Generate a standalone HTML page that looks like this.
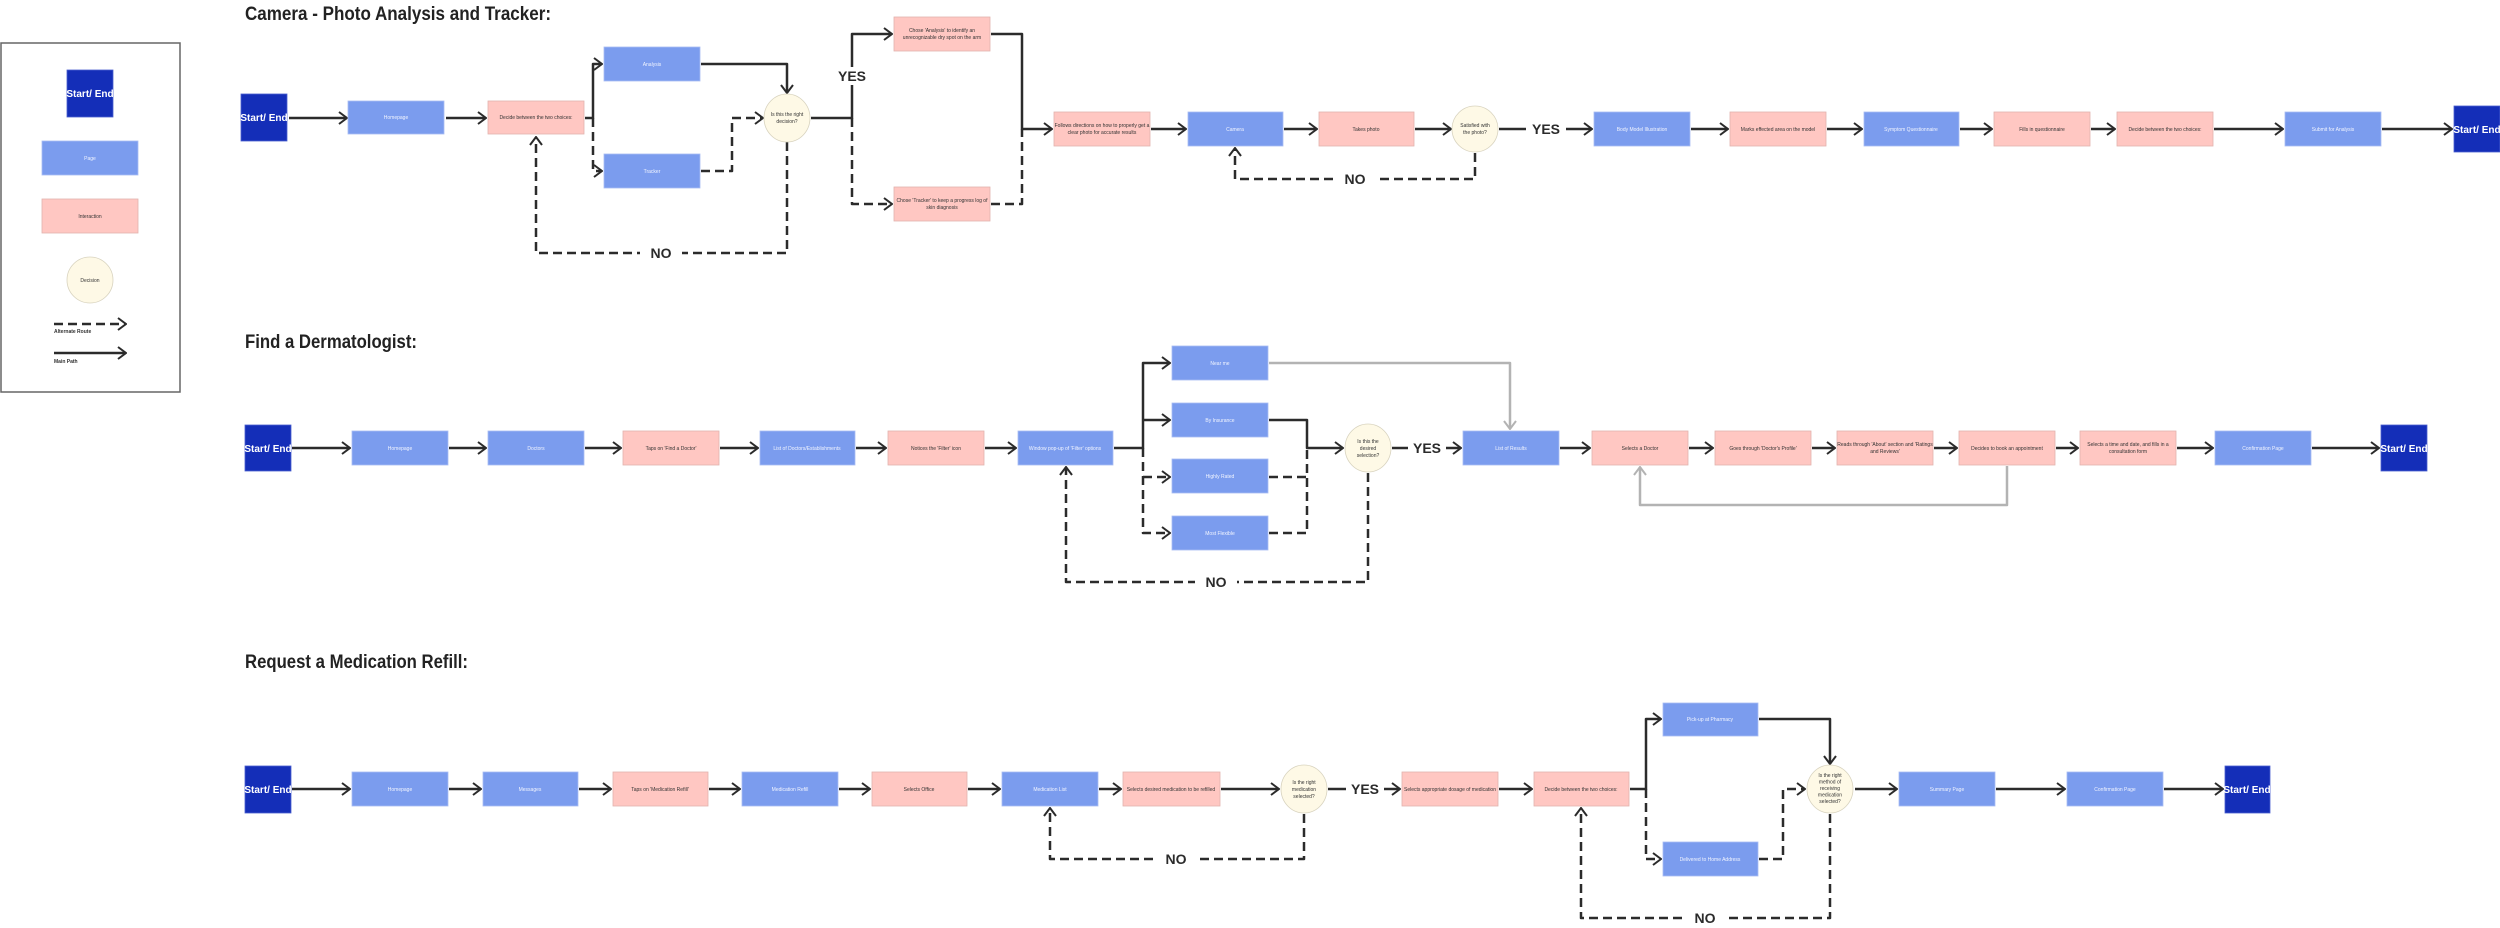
<!DOCTYPE html>
<html><head><meta charset="utf-8"><style>
html,body{margin:0;padding:0;background:#fff;}
svg{display:block;}
.s{stroke:#2b2b2b;stroke-width:2.5;fill:none;stroke-linejoin:round;}
.d{stroke:#2b2b2b;stroke-width:2.5;fill:none;stroke-dasharray:9 5;stroke-linejoin:round;}
.g{stroke:#b3b3b3;stroke-width:2.5;fill:none;stroke-linejoin:round;}
.pg{fill:#7b9cee;stroke:#a9bdf3;stroke-width:.8;}
.in{fill:#ffc7c2;stroke:#e2b3ae;stroke-width:.8;}
.se{fill:#142eb8;stroke:#4a5fcf;stroke-width:.8;}
.dc{fill:#fef9e6;stroke:#d8d3bf;stroke-width:.8;}
text{font-family:"Liberation Sans",sans-serif;}
.tp{font-size:5px;fill:#f2f5ff;text-anchor:middle;}
.ti{font-size:5px;fill:#333;text-anchor:middle;}
.tse{font-size:10px;fill:#fff;font-weight:bold;text-anchor:middle;}
.lb{font-size:14px;font-weight:bold;fill:#2b2b2b;text-anchor:middle;}
.h{font-size:19px;font-weight:bold;fill:#222;}
</style></head><body>
<svg width="2500" height="928" viewBox="0 0 2500 928" xmlns="http://www.w3.org/2000/svg">
<defs>
<marker id="a" viewBox="0 0 10 14" refX="9" refY="7" markerWidth="10" markerHeight="14" markerUnits="userSpaceOnUse" orient="auto"><path d="M1,1 L9,7 L1,13" fill="none" stroke="#2b2b2b" stroke-width="2"/></marker>
<marker id="ag" viewBox="0 0 10 14" refX="9" refY="7" markerWidth="10" markerHeight="14" markerUnits="userSpaceOnUse" orient="auto"><path d="M1,1 L9,7 L1,13" fill="none" stroke="#b3b3b3" stroke-width="2"/></marker>
</defs>

<!-- Legend -->
<rect x="1" y="43" width="179" height="349" fill="#fff" stroke="#666" stroke-width="1.5"/>
<rect class="se" x="67" y="70" width="46" height="47"/><text class="tse" x="90" y="97">Start/ End</text>
<rect class="pg" x="42" y="141" width="96" height="34"/><text class="tp" x="90" y="160">Page</text>
<rect class="in" x="42" y="199" width="96" height="34"/><text class="ti" x="90" y="218">Interaction</text>
<ellipse class="dc" cx="90" cy="280" rx="23" ry="23"/><text class="ti" x="90" y="282">Decision</text>
<path class="d" d="M54,324 H126" marker-end="url(#a)"/>
<text x="54" y="333" font-size="5" fill="#333" font-weight="bold">Alternate Route</text>
<path class="s" d="M54,353 H126" marker-end="url(#a)"/>
<text x="54" y="363" font-size="5" fill="#333" font-weight="bold">Main Path</text>

<!-- Titles -->
<text class="h" x="245" y="20" textLength="306" lengthAdjust="spacingAndGlyphs">Camera - Photo Analysis and Tracker:</text>
<text class="h" x="245" y="348" textLength="172" lengthAdjust="spacingAndGlyphs">Find a Dermatologist:</text>
<text class="h" x="245" y="668" textLength="223" lengthAdjust="spacingAndGlyphs">Request a Medication Refill:</text>

<!-- ROW 1 connectors -->
<path class="s" d="M289,118 H347" marker-end="url(#a)"/>
<path class="s" d="M446,118 H486" marker-end="url(#a)"/>
<path class="s" d="M585,118 H593 V64 H602" marker-end="url(#a)"/>
<path class="d" d="M593,118 V171 H602" marker-end="url(#a)"/>
<path class="s" d="M701,64 H787 V93" marker-end="url(#a)"/>
<path class="d" d="M701,171 H732 V118 H763" marker-end="url(#a)"/>
<path class="d" d="M787,142 V253 H536 V137" marker-end="url(#a)"/>
<path class="s" d="M811,118 H852 V34 H892" marker-end="url(#a)"/>
<path class="d" d="M852,118 V204 H892" marker-end="url(#a)"/>
<path class="s" d="M991,34 H1022 V129 H1052" marker-end="url(#a)"/>
<path class="d" d="M991,204 H1022 V129"/>
<path class="s" d="M1151,129 H1186" marker-end="url(#a)"/>
<path class="s" d="M1284,129 H1317" marker-end="url(#a)"/>
<path class="s" d="M1415,129 H1451" marker-end="url(#a)"/>
<path class="s" d="M1499,129 H1592" marker-end="url(#a)"/>
<path class="d" d="M1475,153 V179 H1235 V148" marker-end="url(#a)"/>
<path class="s" d="M1691,129 H1728" marker-end="url(#a)"/>
<path class="s" d="M1827,129 H1862" marker-end="url(#a)"/>
<path class="s" d="M1960,129 H1992" marker-end="url(#a)"/>
<path class="s" d="M2091,129 H2115" marker-end="url(#a)"/>
<path class="s" d="M2214,129 H2283" marker-end="url(#a)"/>
<path class="s" d="M2382,129 H2452" marker-end="url(#a)"/>
<!-- labels row1 -->
<rect x="640" y="245" width="42" height="16" fill="#fff"/><text class="lb" x="661" y="258">NO</text>
<rect x="836" y="67" width="32" height="18" fill="#fff"/><text class="lb" x="852" y="81">YES</text>
<rect x="1334" y="171" width="42" height="16" fill="#fff"/><text class="lb" x="1355" y="184">NO</text>
<rect x="1526" y="120" width="40" height="18" fill="#fff"/><text class="lb" x="1546" y="134">YES</text>

<!-- ROW 1 nodes -->
<rect class="se" x="241" y="94" width="46" height="47"/><text class="tse" x="264" y="121">Start/ End</text>
<rect class="pg" x="348" y="101" width="96" height="33"/><text class="tp" x="396" y="119">Homepage</text>
<rect class="in" x="488" y="101" width="96" height="33"/><text class="ti" x="536" y="119">Decide between the two choices:</text>
<rect class="pg" x="604" y="47" width="96" height="34"/><text class="tp" x="652" y="66">Analysis</text>
<rect class="pg" x="604" y="154" width="96" height="34"/><text class="tp" x="652" y="173">Tracker</text>
<ellipse class="dc" cx="787" cy="118" rx="23" ry="24"/><text class="ti" x="787" y="116">Is this the right<tspan x="787" dy="7">decision?</tspan></text>
<rect class="in" x="894" y="17" width="96" height="34"/><text class="ti" x="942" y="32">Chose 'Analysis' to identify an<tspan x="942" dy="7">unrecognizable dry spot on the arm</tspan></text>
<rect class="in" x="894" y="187" width="96" height="34"/><text class="ti" x="942" y="202">Chose 'Tracker' to keep a progress log of<tspan x="942" dy="7">skin diagnosis</tspan></text>
<rect class="in" x="1054" y="112" width="96" height="34"/><text class="ti" x="1102" y="127">Follows directions on how to properly get a<tspan x="1102" dy="7">clear photo for accurate results</tspan></text>
<rect class="pg" x="1188" y="112" width="95" height="34"/><text class="tp" x="1235" y="131">Camera</text>
<rect class="in" x="1319" y="112" width="95" height="34"/><text class="ti" x="1366" y="131">Takes photo</text>
<ellipse class="dc" cx="1475" cy="129" rx="23" ry="23"/><text class="ti" x="1475" y="127">Satisfied with<tspan x="1475" dy="7">the photo?</tspan></text>
<rect class="pg" x="1594" y="112" width="96" height="34"/><text class="tp" x="1642" y="131">Body Model Illustration</text>
<rect class="in" x="1730" y="112" width="96" height="34"/><text class="ti" x="1778" y="131">Marks effected area on the model</text>
<rect class="pg" x="1864" y="112" width="95" height="34"/><text class="tp" x="1911" y="131">Symptom Questionnaire</text>
<rect class="in" x="1994" y="112" width="96" height="34"/><text class="ti" x="2042" y="131">Fills in questionnaire</text>
<rect class="in" x="2117" y="112" width="96" height="34"/><text class="ti" x="2165" y="131">Decide between the two choices:</text>
<rect class="pg" x="2285" y="112" width="96" height="34"/><text class="tp" x="2333" y="131">Submit for Analysis</text>
<rect class="se" x="2454" y="106" width="46" height="46"/><text class="tse" x="2477" y="133">Start/ End</text>

<!-- ROW 2 connectors -->
<path class="s" d="M292,448 H350" marker-end="url(#a)"/>
<path class="s" d="M449,448 H486" marker-end="url(#a)"/>
<path class="s" d="M585,448 H621" marker-end="url(#a)"/>
<path class="s" d="M720,448 H758" marker-end="url(#a)"/>
<path class="s" d="M856,448 H886" marker-end="url(#a)"/>
<path class="s" d="M985,448 H1016" marker-end="url(#a)"/>
<path class="s" d="M1114,448 H1143 V363 H1170" marker-end="url(#a)"/>
<path class="s" d="M1143,420 H1170" marker-end="url(#a)"/>
<path class="d" d="M1143,448 V533 H1170" marker-end="url(#a)"/>
<path class="d" d="M1143,477 H1170" marker-end="url(#a)"/>
<path class="g" d="M1269,363 H1510 V429" marker-end="url(#ag)"/>
<path class="s" d="M1269,420 H1307 V448 H1343" marker-end="url(#a)"/>
<path class="d" d="M1269,477 H1307 V448"/>
<path class="d" d="M1269,533 H1307 V477"/>
<path class="s" d="M1392,448 H1461" marker-end="url(#a)"/>
<path class="d" d="M1368,473 V582 H1066 V467" marker-end="url(#a)"/>
<path class="s" d="M1560,448 H1590" marker-end="url(#a)"/>
<path class="s" d="M1689,448 H1713" marker-end="url(#a)"/>
<path class="s" d="M1812,448 H1835" marker-end="url(#a)"/>
<path class="s" d="M1934,448 H1957" marker-end="url(#a)"/>
<path class="s" d="M2056,448 H2078" marker-end="url(#a)"/>
<path class="s" d="M2177,448 H2213" marker-end="url(#a)"/>
<path class="s" d="M2312,448 H2379" marker-end="url(#a)"/>
<path class="g" d="M2007,466 V505 H1640 V467" marker-end="url(#ag)"/>
<rect x="1408" y="439" width="38" height="18" fill="#fff"/><text class="lb" x="1427" y="453">YES</text>
<rect x="1195" y="574" width="42" height="16" fill="#fff"/><text class="lb" x="1216" y="587">NO</text>

<!-- ROW 2 nodes -->
<rect class="se" x="245" y="425" width="46" height="46"/><text class="tse" x="268" y="452">Start/ End</text>
<rect class="pg" x="352" y="431" width="96" height="34"/><text class="tp" x="400" y="450">Homepage</text>
<rect class="pg" x="488" y="431" width="96" height="34"/><text class="tp" x="536" y="450">Doctors</text>
<rect class="in" x="623" y="431" width="96" height="34"/><text class="ti" x="671" y="450">Taps on 'Find a Doctor'</text>
<rect class="pg" x="760" y="431" width="95" height="34"/><text class="tp" x="807" y="450">List of Doctors/Establishments</text>
<rect class="in" x="888" y="431" width="96" height="34"/><text class="ti" x="936" y="450">Notices the 'Filter' icon</text>
<rect class="pg" x="1018" y="431" width="95" height="34"/><text class="tp" x="1065" y="450">Window pop-up of 'Filter' options</text>
<rect class="pg" x="1172" y="346" width="96" height="34"/><text class="tp" x="1220" y="365">Near me</text>
<rect class="pg" x="1172" y="403" width="96" height="34"/><text class="tp" x="1220" y="422">By Insurance</text>
<rect class="pg" x="1172" y="459" width="96" height="34"/><text class="tp" x="1220" y="478">Highly Rated</text>
<rect class="pg" x="1172" y="516" width="96" height="34"/><text class="tp" x="1220" y="535">Most Flexible</text>
<ellipse class="dc" cx="1368" cy="448" rx="23" ry="24"/><text class="ti" x="1368" y="443">Is this the<tspan x="1368" dy="7">desired</tspan><tspan x="1368" dy="7">selection?</tspan></text>
<rect class="pg" x="1463" y="431" width="96" height="34"/><text class="tp" x="1511" y="450">List of Results</text>
<rect class="in" x="1592" y="431" width="96" height="34"/><text class="ti" x="1640" y="450">Selects a Doctor</text>
<rect class="in" x="1715" y="431" width="96" height="34"/><text class="ti" x="1763" y="450">Goes through 'Doctor's Profile'</text>
<rect class="in" x="1837" y="431" width="96" height="34"/><text class="ti" x="1885" y="446">Reads through 'About' section and 'Ratings<tspan x="1885" dy="7">and Reviews'</tspan></text>
<rect class="in" x="1959" y="431" width="96" height="34"/><text class="ti" x="2007" y="450">Decides to book an appointment</text>
<rect class="in" x="2080" y="431" width="96" height="34"/><text class="ti" x="2128" y="446">Selects a time and date, and fills in a<tspan x="2128" dy="7">consultation form</tspan></text>
<rect class="pg" x="2215" y="431" width="96" height="34"/><text class="tp" x="2263" y="450">Confirmation Page</text>
<rect class="se" x="2381" y="425" width="46" height="46"/><text class="tse" x="2404" y="452">Start/ End</text>

<!-- ROW 3 connectors -->
<path class="s" d="M292,789 H350" marker-end="url(#a)"/>
<path class="s" d="M449,789 H481" marker-end="url(#a)"/>
<path class="s" d="M579,789 H611" marker-end="url(#a)"/>
<path class="s" d="M709,789 H740" marker-end="url(#a)"/>
<path class="s" d="M839,789 H870" marker-end="url(#a)"/>
<path class="s" d="M968,789 H1000" marker-end="url(#a)"/>
<path class="s" d="M1099,789 H1121" marker-end="url(#a)"/>
<path class="s" d="M1221,789 H1279" marker-end="url(#a)"/>
<path class="s" d="M1328,789 H1400" marker-end="url(#a)"/>
<path class="s" d="M1499,789 H1532" marker-end="url(#a)"/>
<path class="s" d="M1630,789 H1646 V719 H1661" marker-end="url(#a)"/>
<path class="d" d="M1646,789 V859 H1661" marker-end="url(#a)"/>
<path class="s" d="M1759,719 H1830 V764" marker-end="url(#a)"/>
<path class="d" d="M1759,859 H1783 V789 H1805" marker-end="url(#a)"/>
<path class="d" d="M1304,814 V859 H1050 V808" marker-end="url(#a)"/>
<path class="d" d="M1830,814 V918 H1581 V808" marker-end="url(#a)"/>
<path class="s" d="M1855,789 H1897" marker-end="url(#a)"/>
<path class="s" d="M1996,789 H2065" marker-end="url(#a)"/>
<path class="s" d="M2164,789 H2223" marker-end="url(#a)"/>
<rect x="1346" y="780" width="38" height="18" fill="#fff"/><text class="lb" x="1365" y="794">YES</text>
<rect x="1155" y="851" width="42" height="16" fill="#fff"/><text class="lb" x="1176" y="864">NO</text>
<rect x="1684" y="910" width="42" height="16" fill="#fff"/><text class="lb" x="1705" y="923">NO</text>

<!-- ROW 3 nodes -->
<rect class="se" x="245" y="766" width="46" height="47"/><text class="tse" x="268" y="793">Start/ End</text>
<rect class="pg" x="352" y="772" width="96" height="34"/><text class="tp" x="400" y="791">Homepage</text>
<rect class="pg" x="483" y="772" width="95" height="34"/><text class="tp" x="530" y="791">Messages</text>
<rect class="in" x="613" y="772" width="95" height="34"/><text class="ti" x="660" y="791">Taps on 'Medication Refill'</text>
<rect class="pg" x="742" y="772" width="96" height="34"/><text class="tp" x="790" y="791">Medication Refill</text>
<rect class="in" x="872" y="772" width="95" height="34"/><text class="ti" x="919" y="791">Selects Office</text>
<rect class="pg" x="1002" y="772" width="96" height="34"/><text class="tp" x="1050" y="791">Medication List</text>
<rect class="in" x="1123" y="772" width="97" height="34"/><text class="ti" x="1171" y="791">Selects desired medication to be refilled</text>
<ellipse class="dc" cx="1304" cy="789" rx="23" ry="24"/><text class="ti" x="1304" y="784">Is the right<tspan x="1304" dy="7">medication</tspan><tspan x="1304" dy="7">selected?</tspan></text>
<rect class="in" x="1402" y="772" width="96" height="34"/><text class="ti" x="1450" y="791">Selects appropriate dosage of medication</text>
<rect class="in" x="1534" y="772" width="95" height="34"/><text class="ti" x="1581" y="791">Decide between the two choices:</text>
<rect class="pg" x="1663" y="703" width="95" height="33"/><text class="tp" x="1710" y="721">Pick-up at Pharmacy</text>
<rect class="pg" x="1663" y="842" width="95" height="34"/><text class="tp" x="1710" y="861">Delivered to Home Address</text>
<ellipse class="dc" cx="1830" cy="789" rx="23" ry="24"/><text class="ti" x="1830" y="777">Is the right<tspan x="1830" dy="6.5">method of</tspan><tspan x="1830" dy="6.5">receiving</tspan><tspan x="1830" dy="6.5">medication</tspan><tspan x="1830" dy="6.5">selected?</tspan></text>
<rect class="pg" x="1899" y="772" width="96" height="34"/><text class="tp" x="1947" y="791">Summary Page</text>
<rect class="pg" x="2067" y="772" width="96" height="34"/><text class="tp" x="2115" y="791">Confirmation Page</text>
<rect class="se" x="2225" y="766" width="45" height="47"/><text class="tse" x="2247" y="793">Start/ End</text>
</svg>
</body></html>
